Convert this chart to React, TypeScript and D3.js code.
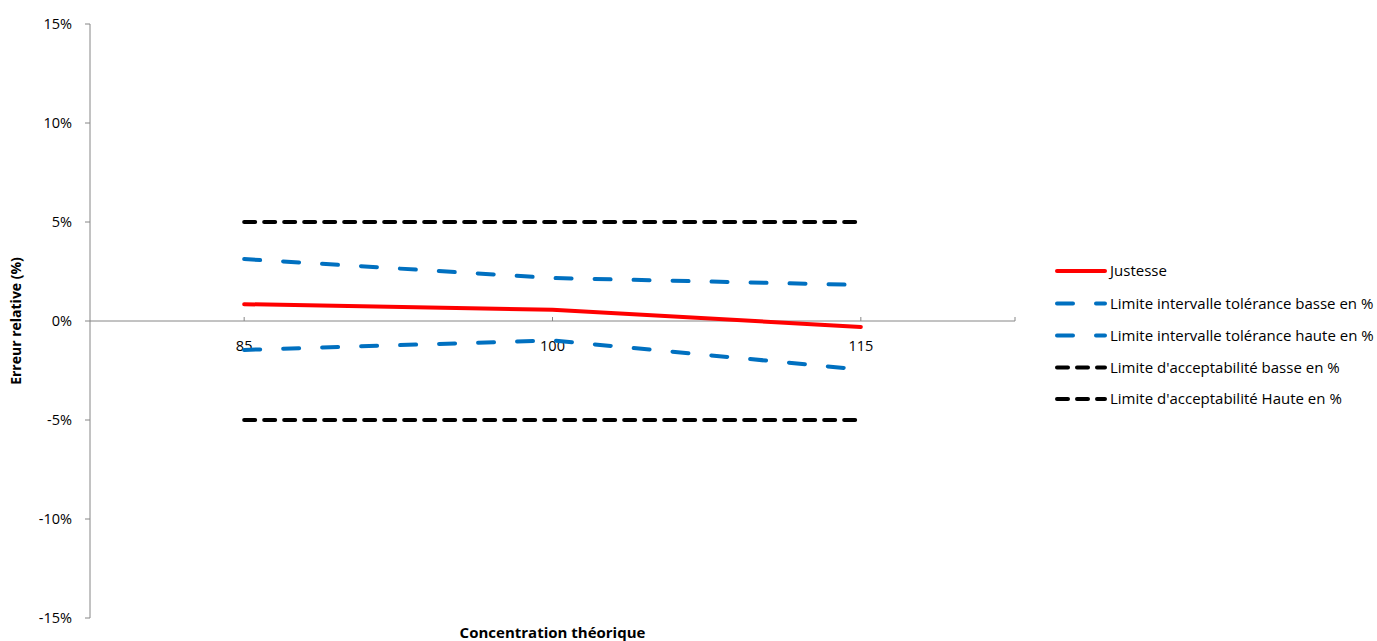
import React from "react";
import * as d3 from "d3";

const categories = ["85", "100", "115"];
const justesse = [0.0085, 0.0057, -0.003];
const toleranceBasse = [-0.0146, -0.0098, -0.0245];
const toleranceHaute = [0.0313, 0.0217, 0.0182];
const acceptBasse = [-0.05, -0.05, -0.05];
const acceptHaute = [0.05, 0.05, 0.05];
const yTicks = [-0.15, -0.1, -0.05, 0, 0.05, 0.1, 0.15];

const series = [
  { name: "Justesse", values: justesse, color: "#FF0000", dash: "" },
  { name: "Limite intervalle tolérance basse en %", values: toleranceBasse, color: "#0070C0", dash: "16,23" },
  { name: "Limite intervalle tolérance haute en %", values: toleranceHaute, color: "#0070C0", dash: "16,23" },
  { name: "Limite d'acceptabilité basse en %", values: acceptBasse, color: "#000000", dash: "11,9" },
  { name: "Limite d'acceptabilité Haute en %", values: acceptHaute, color: "#000000", dash: "11,9" },
];

const FONT = "'Open Sans', sans-serif";

export default function App() {
  const W = 1377, H = 641;
  const left = 90, right = 1015, top = 24, bottom = 618;
  const x = d3.scaleBand<string>().domain(categories).range([left, right]);
  const cx = (c: string) => (x(c) as number) + x.bandwidth() / 2;
  const y = d3.scaleLinear().domain([-0.15, 0.15]).range([bottom, top]);
  const line = d3
    .line<number>()
    .x((_, i) => cx(categories[i]))
    .y((d) => y(d));
  const fmt = (v: number) => `${Math.round(v * 100)}%`;
  const legendX = 1057;
  const legendY = [271, 303.5, 335.5, 367.5, 399];

  return (
    <svg width={W} height={H} style={{ position: "absolute", left: 0, top: 0, background: "#fff" }} fontFamily={FONT}>
      {/* y axis */}
      <line x1={left} x2={left} y1={top} y2={bottom} stroke="#868686" strokeWidth={1} />
      {yTicks.map((t) => (
        <g key={t}>
          <line x1={left - 5} x2={left} y1={y(t)} y2={y(t)} stroke="#868686" />
          <text x={72} y={y(t)} dy="0.35em" textAnchor="end" fontSize={14.5} fill="#000">
            {fmt(t)}
          </text>
        </g>
      ))}
      {/* x axis at 0 */}
      <line x1={left} x2={right} y1={y(0)} y2={y(0)} stroke="#868686" strokeWidth={1} />
      {categories.map((c) => (
        <g key={c}>
          <line x1={cx(c)} x2={cx(c)} y1={y(0) - 4} y2={y(0)} stroke="#868686" />
          <text x={cx(c)} y={y(0) + 30} textAnchor="middle" fontSize={14.5} fill="#000">
            {c}
          </text>
        </g>
      ))}
      <line x1={right} x2={right} y1={y(0) - 4} y2={y(0)} stroke="#868686" />

      {/* series */}
      {series.map((s) => (
        <path
          key={s.name}
          d={line(s.values) || ""}
          fill="none"
          stroke={s.color}
          strokeWidth={4}
          strokeDasharray={s.dash || undefined}
          strokeLinecap="round"
          strokeLinejoin="round"
        />
      ))}

      {/* axis titles */}
      <text
        transform={`translate(21,${(top + bottom) / 2}) rotate(-90)`}
        textAnchor="middle"
        fontSize={14}
        fontWeight="bold"
        fill="#000"
      >
        Erreur relative (%)
      </text>
      <text x={(left + right) / 2} y={638} textAnchor="middle" fontSize={15} fontWeight="bold" fill="#000">
        Concentration théorique
      </text>

      {/* legend */}
      {series.map((s, i) => (
        <g key={s.name}>
          <line
            x1={legendX}
            x2={legendX + 48}
            y1={legendY[i]}
            y2={legendY[i]}
            stroke={s.color}
            strokeWidth={4}
            strokeDasharray={s.dash || undefined}
            strokeLinecap="round"
          />
          <text x={legendX + 53} y={legendY[i]} dy="0.35em" fontSize={15} fill="#000">
            {s.name}
          </text>
        </g>
      ))}
    </svg>
  );
}
